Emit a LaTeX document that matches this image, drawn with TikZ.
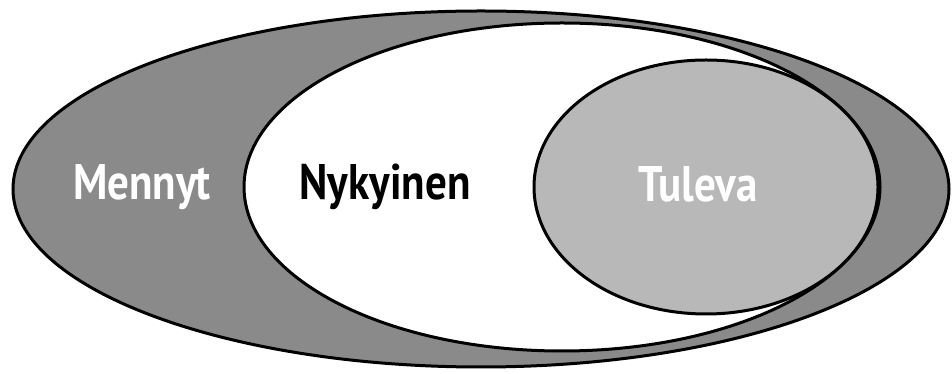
\documentclass[tikz,border=0pt]{standalone}
\usepackage{fontspec}
\setmainfont{PT Sans}[FakeStretch=0.86]
\usepackage{tikz}
\definecolor{pastGray}{RGB}{138, 138, 138}
\definecolor{futureGray}{RGB}{184, 184, 184}

\begin{document}
\begin{tikzpicture}[x=1pt, y=1pt, line width=3pt,
    lbl/.style={font=\fontsize{50}{56}\selectfont\bfseries}]
  \useasboundingbox (0,0) rectangle (952,374);
  % Ellipses
  \draw[fill=pastGray] (481,185) ellipse [x radius=468, y radius=178];
  \draw[fill=white] (562,187) ellipse [x radius=318, y radius=164];
  \draw[fill=futureGray] (706,187) ellipse [x radius=172, y radius=127];
  % Labels
  \node[lbl, text=white] (past) at (142,187) {Mennyt};
  \node[lbl] (present) at (385,187) {Nykyinen};
  \node[lbl, text=white] (future) at (698,190) {Tuleva};
\end{tikzpicture}
\end{document}
